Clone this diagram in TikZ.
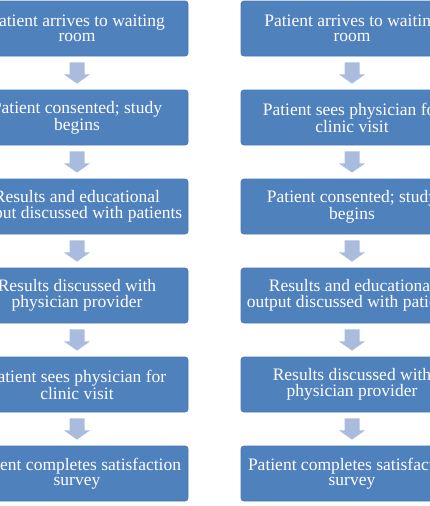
\documentclass[tikz,border=0pt]{standalone}
\usepackage{fontspec}
\setmainfont{Liberation Serif}
\definecolor{boxblue}{HTML}{4F81BD}
\definecolor{boxedge}{HTML}{4A7AB3}
\definecolor{arrblue}{HTML}{A9BCDD}
\tikzset{
  stepbox/.style={draw=boxedge, line width=0.8pt, fill=boxblue, rounded corners=3pt,
    minimum width=222pt, minimum height=55pt, inner sep=0pt, align=center,
    text=white, font=\fontsize{17.5}{15.5}\selectfont}
}
\newcommand{\dnarrow}[2]{%
  \fill[arrblue] ([xshift=-7.5pt,yshift=-6pt]#1.south) -- ([xshift=7.5pt,yshift=-6pt]#1.south)
    -- ([xshift=7.5pt,yshift=-18pt]#1.south) -- ([xshift=13pt,yshift=-18pt]#1.south)
    -- ([yshift=6pt]#2.north) -- ([xshift=-13pt,yshift=-18pt]#1.south)
    -- ([xshift=-7.5pt,yshift=-18pt]#1.south) -- cycle;}
\begin{document}
\begin{tikzpicture}[x=1pt,y=-1pt]
\useasboundingbox (0,0) rectangle (430,506);
\clip (0,0) rectangle (430,506);
% left column
\node[stepbox] (l1) at (77,28.5) {Patient arrives to waiting\\room};
\node[stepbox] (l2) at (77,117.5) {Patient consented; study\\begins};
\node[stepbox] (l3) at (77,206.5) {Results and educational\\output discussed with patients};
\node[stepbox] (l4) at (77,295.5) {Results discussed with\\physician provider};
\node[stepbox] (l5) at (77,384.5) {Patient sees physician for\\clinic visit};
\node[stepbox] (l6) at (77,473.5) {Patient completes satisfaction\\survey};
% right column
\node[stepbox] (r1) at (352,28.5) {Patient arrives to waiting\\room};
\node[stepbox] (r2) at (352,117.5) {Patient sees physician for\\clinic visit};
\node[stepbox] (r3) at (352,206.5) {Patient consented; study\\begins};
\node[stepbox] (r4) at (352,295.5) {Results and educational\\output discussed with patients};
\node[stepbox] (r5) at (352,384.5) {Results discussed with\\physician provider};
\node[stepbox] (r6) at (352,473.5) {Patient completes satisfaction\\survey};
\dnarrow{l1}{l2}\dnarrow{l2}{l3}\dnarrow{l3}{l4}\dnarrow{l4}{l5}\dnarrow{l5}{l6}
\dnarrow{r1}{r2}\dnarrow{r2}{r3}\dnarrow{r3}{r4}\dnarrow{r4}{r5}\dnarrow{r5}{r6}
\end{tikzpicture}
\end{document}
